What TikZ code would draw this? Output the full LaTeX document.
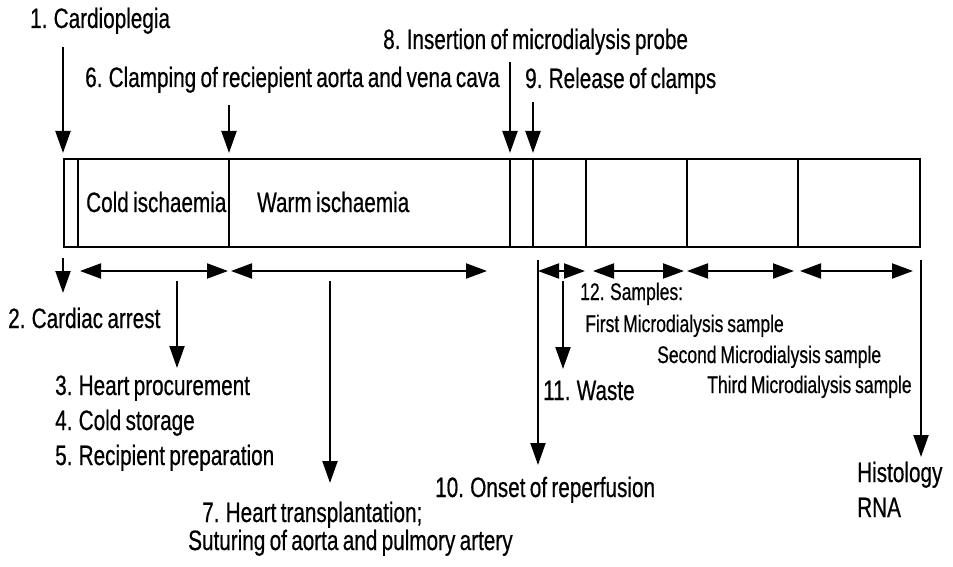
\documentclass[tikz,border=0pt]{standalone}
\usepackage{fontspec}
\setmainfont{Liberation Sans}[FakeStretch=0.74,WordSpace=0.75,FakeBold=0.5]
\newfontfamily\samplefont{Liberation Sans}[FakeStretch=0.73,WordSpace=0.8,FakeBold=0.5]
\usetikzlibrary{arrows.meta}
\begin{document}
\begin{tikzpicture}[x=1pt,y=-1pt,
  lbl/.style={anchor=base west, inner sep=0pt, font=\fontsize{28}{30}\selectfont},
  slbl/.style={anchor=base west, inner sep=0pt, font=\samplefont\fontsize{24}{28}\selectfont},
  ln/.style={line width=2pt},
  arr/.style={ln, -{Triangle[length=22pt,width=15pt]}},
  darr/.style={ln, {Triangle[length=21pt,width=15pt]}-{Triangle[length=21pt,width=15pt]}}]
\useasboundingbox (0,0) rectangle (953,567);
\fill[white] (0,0) rectangle (953,567);
% timeline box
\node[draw, ln, anchor=north west, inner sep=0pt, minimum width=856pt, minimum height=88pt] (box) at (63,158) {};
\foreach \x/\n in {78/d1,229/d2,510/d3,533/d4,586/d5,687/d6,798/d7}{
  \coordinate (\n) at (\x,158);
  \draw[ln] (\n) -- (\n |- box.south);
}
% labels
\node[lbl] (t1) at (30,28) {1. Cardioplegia};
\node[lbl] (t8) at (383,49) {8. Insertion of microdialysis probe};
\node[lbl] (t6) at (85,87) {6. Clamping of reciepient aorta and vena cava};
\node[lbl] (t9) at (525,88) {9. Release of clamps};
\node[lbl] (tc) at (86,212) {Cold ischaemia};
\node[lbl] (tw) at (257,212) {Warm ischaemia};
\node[lbl] (t2) at (8,328) {2. Cardiac arrest};
\node[lbl] (t3) at (55,395) {3. Heart procurement};
\node[lbl] (t4) at (55,430) {4. Cold storage};
\node[lbl] (t5) at (55,465) {5. Recipient preparation};
\node[lbl] (t7) at (202,522) {7. Heart transplantation;};
\node[lbl] (t7b) at (188,550) {Suturing of aorta and pulmory artery};
\node[lbl] (t10) at (435,497) {10. Onset of reperfusion};
\node[lbl] (t11) at (543,400) {11. Waste};
\node[slbl] (t12) at (580,300) {12. Samples:};
\node[slbl] (s1) at (585,332) {First Microdialysis sample};
\node[slbl] (s2) at (657,363) {Second Microdialysis sample};
\node[slbl] (s3) at (707,393) {Third Microdialysis sample};
\node[lbl] (th) at (857,482) {Histology};
\node[lbl] (tr) at (857,517) {RNA};
% arrows from top labels to box
\coordinate (a1) at (63,47);
\coordinate (a6) at (229,105);
\coordinate (a8) at (510,62);
\coordinate (a9) at (533,102);
\foreach \a in {a1,a6,a8,a9}{
  \draw[arr, shorten >=5pt] (\a) -- (\a |- box.north);
}
% arrows below the box
\coordinate (b2) at (63,258);   \coordinate (e2) at (63,293);
\draw[arr] (b2) -- (e2);
\coordinate (b3) at (177,281);  \coordinate (e3) at (177,368);
\draw[arr] (b3) -- (e3);
\coordinate (b7) at (330,281);  \coordinate (e7) at (330,483);
\draw[arr] (b7) -- (e7);
\coordinate (b10) at (538,260); \coordinate (e10) at (538,465);
\draw[arr] (b10) -- (e10);
\coordinate (b11) at (563,281); \coordinate (e11) at (563,369);
\draw[arr] (b11) -- (e11);
\coordinate (bh) at (921,260);  \coordinate (eh) at (921,457);
\draw[arr] (bh) -- (eh);
% period arrows
\coordinate (p0) at (80,271);  \coordinate (p1) at (228,271);
\coordinate (p2) at (231,271); \coordinate (p3) at (487,271);
\coordinate (p4) at (538,271); \coordinate (p5) at (585,271);
\coordinate (p6) at (593,271); \coordinate (p7) at (684,271);
\coordinate (p8) at (687,271); \coordinate (p9) at (794,271);
\coordinate (p10) at (800,271); \coordinate (p11) at (913,271);
\draw[darr] (p0) -- (p1);
\draw[darr] (p2) -- (p3);
\draw[darr] (p4) -- (p5);
\draw[darr] (p6) -- (p7);
\draw[darr] (p8) -- (p9);
\draw[darr] (p10) -- (p11);
\end{tikzpicture}
\end{document}
